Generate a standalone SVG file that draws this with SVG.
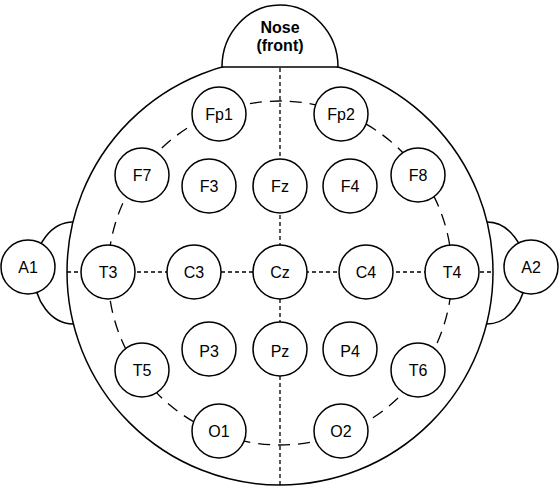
<svg xmlns="http://www.w3.org/2000/svg" width="560" height="488" viewBox="0 0 560 488">
<style>
.ln{fill:none;stroke:#000;stroke-width:1.5}
.cross{fill:none;stroke:#000;stroke-width:1.3;stroke-dasharray:4 3}
.ring{fill:none;stroke:#000;stroke-width:1.3;stroke-dasharray:12 8}
.el circle{fill:#fff;stroke:#000;stroke-width:1.5}
.el text{font-family:"Liberation Sans",Arial,sans-serif;font-size:16px;text-anchor:middle;fill:#000}
.nose{fill:#fff;stroke:#000;stroke-width:1.5}
.nt{font-family:"Liberation Sans",Arial,sans-serif;font-size:16px;font-weight:bold;text-anchor:middle;fill:#000}
</style>
<rect width="560" height="488" fill="#fff"/>
<g id="head">
<path class="ln" d="M73,222 A39,51 0 0 0 73,324"/>
<path class="ln" d="M487,222 A39,51 0 0 1 487,324"/>
<circle class="ln" cx="280" cy="272" r="213"/>
</g>
<g id="nose">
<path class="nose" d="M222,67 A58,62 0 0 1 338,67 Z"/>
<text class="nt" x="280" y="33">Nose</text>
<text class="nt" x="280" y="51">(front)</text>
</g>
<g id="connectors">
<line class="cross" x1="280" y1="68" x2="280" y2="485"/>
<line class="cross" x1="67" y1="272" x2="493" y2="272"/>
<circle class="ring" cx="280" cy="273" r="172"/>
</g>
<g id="A1" class="el"><circle cx="28" cy="267" r="27"/><text x="28" y="273">A1</text></g>
<g id="A2" class="el"><circle cx="531" cy="267" r="27"/><text x="531" y="273">A2</text></g>
<g id="Fp1" class="el"><circle cx="219" cy="114" r="27"/><text x="219" y="120">Fp1</text></g>
<g id="Fp2" class="el"><circle cx="341" cy="114" r="27"/><text x="341" y="120">Fp2</text></g>
<g id="F7" class="el"><circle cx="142" cy="175" r="27"/><text x="142" y="181">F7</text></g>
<g id="F8" class="el"><circle cx="418" cy="175" r="27"/><text x="418" y="181">F8</text></g>
<g id="F3" class="el"><circle cx="209" cy="186" r="27"/><text x="209" y="192">F3</text></g>
<g id="Fz" class="el"><circle cx="280" cy="186" r="27"/><text x="280" y="192">Fz</text></g>
<g id="F4" class="el"><circle cx="350" cy="186" r="27"/><text x="350" y="192">F4</text></g>
<g id="T3" class="el"><circle cx="108" cy="272" r="27"/><text x="108" y="278">T3</text></g>
<g id="C3" class="el"><circle cx="194" cy="272" r="27"/><text x="194" y="278">C3</text></g>
<g id="Cz" class="el"><circle cx="280" cy="272" r="27"/><text x="280" y="278">Cz</text></g>
<g id="C4" class="el"><circle cx="366" cy="272" r="27"/><text x="366" y="278">C4</text></g>
<g id="T4" class="el"><circle cx="452" cy="272" r="27"/><text x="452" y="278">T4</text></g>
<g id="P3" class="el"><circle cx="209" cy="349" r="27"/><text x="209" y="357">P3</text></g>
<g id="Pz" class="el"><circle cx="280" cy="349" r="27"/><text x="280" y="357">Pz</text></g>
<g id="P4" class="el"><circle cx="350" cy="349" r="27"/><text x="350" y="357">P4</text></g>
<g id="T5" class="el"><circle cx="142" cy="370" r="27"/><text x="142" y="376">T5</text></g>
<g id="T6" class="el"><circle cx="418" cy="370" r="27"/><text x="418" y="376">T6</text></g>
<g id="O1" class="el"><circle cx="219" cy="431" r="27"/><text x="219" y="437">O1</text></g>
<g id="O2" class="el"><circle cx="341" cy="431" r="27"/><text x="341" y="437">O2</text></g>
</svg>
